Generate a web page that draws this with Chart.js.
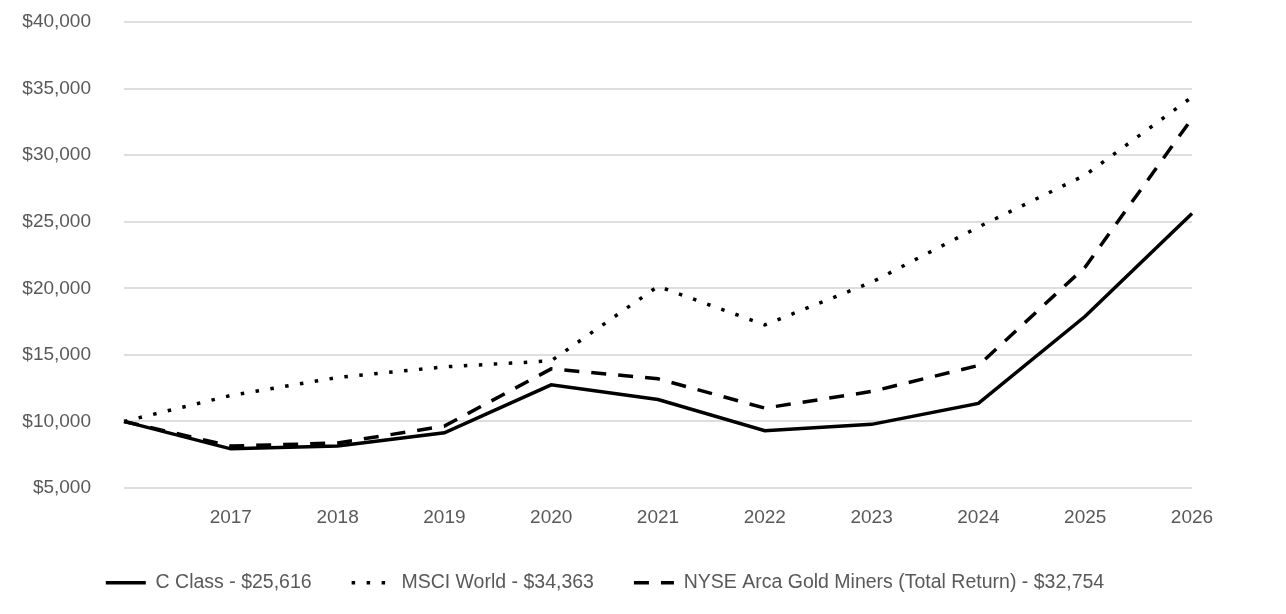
<!DOCTYPE html>
<html>
<head>
<meta charset="utf-8">
<script src="https://cdn.jsdelivr.net/npm/chart.js@4.4.1/dist/chart.umd.min.js"></script>
<style>
  html, body { margin: 0; padding: 0; background: #fff; }
  #wrap { width: 1286px; height: 614px; }
</style>
</head>
<body>
<div id="wrap"><canvas id="growthChart"></canvas></div>
<script>
// Growth of $10,000
const years = ['', '2017', '2018', '2019', '2020', '2021', '2022', '2023', '2024', '2025', '2026'];
const cClass = [10000, 7940, 8150, 9150, 12750, 11650, 9300, 9780, 11350, 17900, 25616];
const msciWorld = [10000, 11950, 13300, 14100, 14550, 20150, 17250, 20450, 24600, 28500, 34363];
const goldMiners = [10000, 8150, 8380, 9650, 13950, 13200, 11000, 12250, 14200, 21600, 32754];
const yTicks = [5000, 40000, 5000]; // min, max, step

const FONT = "'Liberation Sans', Arial, sans-serif";
const GREY = '#595959';

// legend labels.padding is also the row padding, so shrink the legend height back down
const legendHeightFix = {
  id: 'legendHeightFix',
  beforeLayout(chart) {
    const lg = chart.legend;
    if (lg && !lg._fixed) {
      const fit = lg.fit;
      lg.fit = function () { fit.call(this); this.height = 81; };
      lg._fixed = true;
    }
  }
};

const ctx = document.getElementById('growthChart').getContext('2d');
new Chart(ctx, {
  type: 'line',
  data: {
    labels: years,
    datasets: [
      { label: 'C Class - $25,616', data: cClass, borderColor: '#000', borderWidth: 3.5 },
      { label: 'MSCI World - $34,363', data: msciWorld, borderColor: '#000', borderWidth: 3.5, borderDash: [3.5, 11.5] },
      { label: 'NYSE Arca Gold Miners (Total Return) - $32,754', data: goldMiners, borderColor: '#000', borderWidth: 3.5, borderDash: [15, 12] }
    ]
  },
  options: {
    responsive: true,
    maintainAspectRatio: false,
    animation: false,
    layout: { padding: { left: 18, right: 94, top: 22, bottom: 0 } },
    elements: { point: { radius: 0 }, line: { tension: 0, borderCapStyle: 'butt' } },
    plugins: {
      legend: {
        position: 'bottom',
        labels: {
          usePointStyle: true,
          pointStyle: 'line',
          pointStyleWidth: 40,
          padding: 40,
          color: GREY,
          font: { family: FONT, size: 19.5 },
          // point style legend takes the point's style, so copy the line dash back in
          generateLabels(chart) {
            const items = Chart.defaults.plugins.legend.labels.generateLabels(chart);
            items.forEach((it, i) => {
              const ds = chart.data.datasets[i];
              it.lineDash = ds.borderDash || [];
              it.lineWidth = ds.borderWidth;
              it.lineCap = 'butt';
              it.strokeStyle = ds.borderColor;
              it.pointStyle = 'line';
            });
            return items;
          }
        }
      },
      tooltip: { enabled: false }
    },
    scales: {
      x: {
        afterFit(scale) { scale.height = 45; },
        grid: { display: false, drawTicks: false },
        border: { display: false },
        ticks: { color: GREY, font: { family: FONT, size: 19 }, padding: 18, maxRotation: 0, autoSkip: false }
      },
      y: {
        min: yTicks[0],
        max: yTicks[1],
        afterFit(scale) {
          scale.width = 106;
          // tick padding would otherwise push the plot top down
          scale.paddingTop = 0;
          scale.paddingBottom = 0;
        },
        grid: { color: '#dedede', lineWidth: 2, drawTicks: false },
        border: { display: false },
        ticks: {
          stepSize: yTicks[2],
          padding: 33,
          color: GREY,
          font: { family: FONT, size: 19 },
          callback: v => '$' + v.toLocaleString('en-US')
        }
      }
    }
  },
  plugins: [legendHeightFix]
});
</script>
</body>
</html>
